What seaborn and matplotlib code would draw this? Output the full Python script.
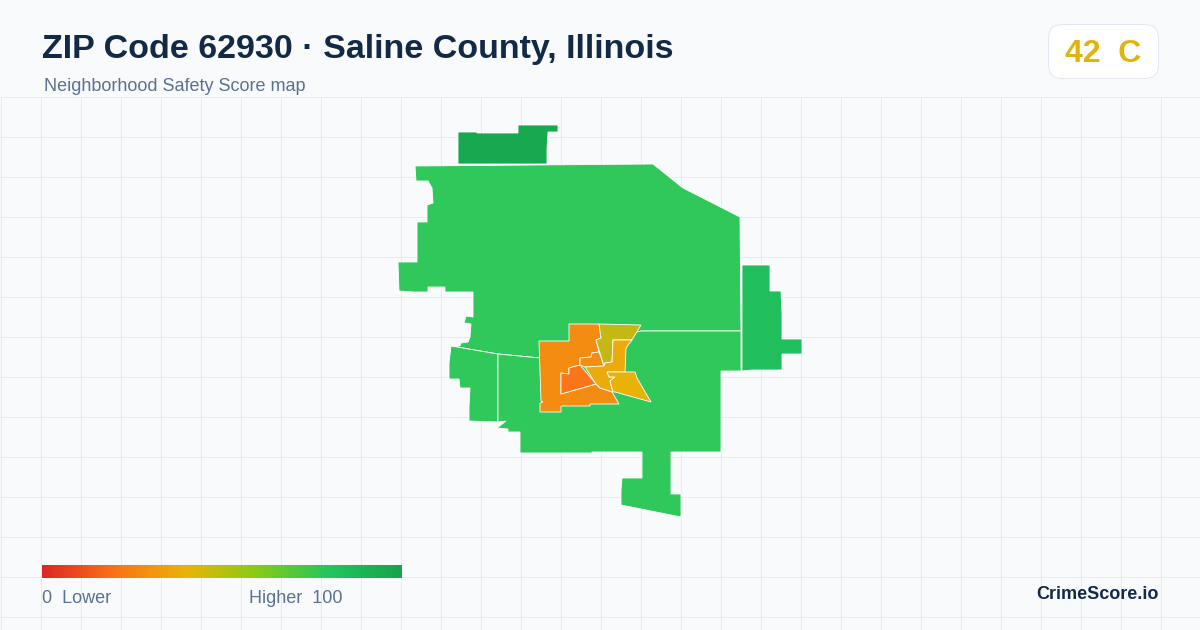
import numpy as np
import seaborn as sns
import matplotlib
matplotlib.use('Agg')
import matplotlib.pyplot as plt
from matplotlib.patches import FancyBboxPatch

# map outlines (x, y in image pixels)
north = [(415, 166), (653, 164), (683, 188), (740, 217), (741, 331), (641, 331), (620, 345), (620, 380),
         (540, 380), (540, 358), (498, 354), (451, 346), (460, 346), (461, 343), (468, 342), (470, 337),
         (471, 324), (464, 323), (466, 316), (473, 317), (473, 292), (445, 292), (445, 287), (428, 287),
         (428, 292), (414, 292), (399, 291), (398, 262), (417, 262), (417, 222), (427, 222), (427, 205),
         (433, 203), (432, 188), (428, 181), (416, 181)]
top_block = [(458, 132), (477, 132), (477, 133), (518, 133), (518, 125), (558, 125), (558, 132), (548, 132),
             (547, 149), (547, 164), (458, 164)]
east_block = [(742, 265), (770, 265), (770, 291), (781, 291), (782, 313), (782, 339), (802, 339), (802, 354),
              (782, 354), (782, 370), (752, 370), (742, 371)]
west_block = [(451, 346), (498, 354), (498, 422), (469, 421), (469, 407), (470, 388), (460, 388), (459, 379),
              (449, 379), (449, 363)]
south_block = [(498, 354), (540, 358), (641, 331), (741, 331), (741, 371), (721, 371), (721, 452), (671, 452),
               (671, 494), (681, 494), (681, 517), (621, 505), (621, 490), (622, 478), (642, 478), (642, 452),
               (592, 452), (592, 453), (520, 453), (520, 432), (508, 432), (508, 429), (497, 428), (506, 421),
               (498, 422)]
orange_big = [(539, 341), (569, 341), (569, 324), (599, 324), (601, 338), (596, 340), (599, 352), (592, 353),
              (591, 357), (580, 358), (580, 365), (569, 368), (569, 374), (561, 373), (561, 394), (596, 384),
              (600, 388), (612, 392), (619, 404), (590, 404), (590, 406), (561, 406), (561, 412), (540, 412),
              (540, 403), (543, 402), (541, 401)]
orange_dark = [(561, 373), (569, 374), (569, 368), (580, 365), (596, 384), (561, 394)]
orange_small = [(580, 358), (591, 357), (592, 353), (599, 352), (604, 366), (585, 367), (580, 365)]
olive = [(599, 324), (641, 325), (632, 340), (613, 340), (612, 362), (605, 363), (604, 366), (596, 340),
         (601, 338)]
amber = [(613, 340), (632, 340), (626, 348), (625, 372), (607, 372), (609, 377), (615, 377), (610, 381),
         (613, 392), (600, 388), (596, 384), (585, 367), (604, 366), (605, 363), (612, 362)]
yellow = [(607, 372), (635, 372), (637, 378), (651, 402), (615, 392), (613, 392), (610, 381), (615, 377),
          (609, 377)]

areas = [north, top_block, east_block, west_block, south_block, orange_big, orange_dark,
         orange_small, olive, amber, yellow]
area_colors = ['#30c85a', '#18a84f', '#20bf5c', '#30c85a', '#30c85a', '#f58c12', '#fa7618',
               '#f38e12', '#c4b912', '#edaa0b', '#e9b208']

ramp_colors = ['#dc2626', '#f97316', '#eab308', '#84cc16', '#22c55e', '#16a34a']

title = 'ZIP Code 62930 · Saline County, Illinois'
subtitle = 'Neighborhood Safety Score map'
score_text = '42  C'

sns.set_theme(style='white')
plt.rcParams['font.family'] = ['Liberation Sans', 'DejaVu Sans']

fig = plt.figure(figsize=(12, 6.3), dpi=100, facecolor='#f8fafc')
ax = fig.add_axes([0, 0, 1, 1])
ax.set_xlim(0, 1200)
ax.set_ylim(630, 0)
ax.set_facecolor('#f8fafc')
ax.axis('off')

# background grid below the header, 1px lines
for x in np.arange(0, 1200, 40):
    ax.plot([x + 0.5, x + 0.5], [96.5, 630], color='#e4edf2', lw=0.72, zorder=1)
for y in np.arange(96, 630, 40):
    ax.plot([0, 1200], [y + 0.5, y + 0.5], color='#e4edf2', lw=0.72, zorder=1)

for i, (shape, c) in enumerate(zip(areas, area_colors)):
    xs, ys = zip(*shape)
    ax.fill(xs, ys, facecolor=c, edgecolor='white', lw=0.6, zorder=3 + i, joinstyle='miter')

ax.text(42, 49.5, title, fontsize=24.45, fontweight='bold', color='#132a46', va='center', ha='left')
ax.text(44, 86.4, subtitle, fontsize=12.95, color='#5b7190', va='center', ha='left')

badge = FancyBboxPatch((1048.5, 24.5), 110, 54, boxstyle='round,pad=0,rounding_size=14',
                       facecolor='white', edgecolor='#e2e8f0', lw=0.72, zorder=3)
ax.add_patch(badge)
ax.text(1103, 53.5, score_text, fontsize=23, fontweight='bold', color='#e0b40f',
        va='center', ha='center', zorder=4)

# legend ramp
cax = fig.add_axes([42 / 1200, 1 - 578 / 630, 360 / 1200, 13 / 630])
ramp = sns.blend_palette(ramp_colors, as_cmap=True)
sns.heatmap(np.linspace(0, 1, 360)[None, :], cmap=ramp, vmin=0, vmax=1, cbar=False,
            xticklabels=False, yticklabels=False, ax=cax)

ax.text(42, 598.4, '0  Lower', fontsize=12.95, color='#5b7190', va='center', ha='left')
ax.text(249, 598.4, 'Higher  100', fontsize=12.95, color='#5b7190', va='center', ha='left')
ax.text(1158.5, 594.4, 'CrimeScore.io', fontsize=13, fontweight='bold', color='#132a46', va='center', ha='right')

fig.savefig('out.png', dpi=100, facecolor=fig.get_facecolor())
